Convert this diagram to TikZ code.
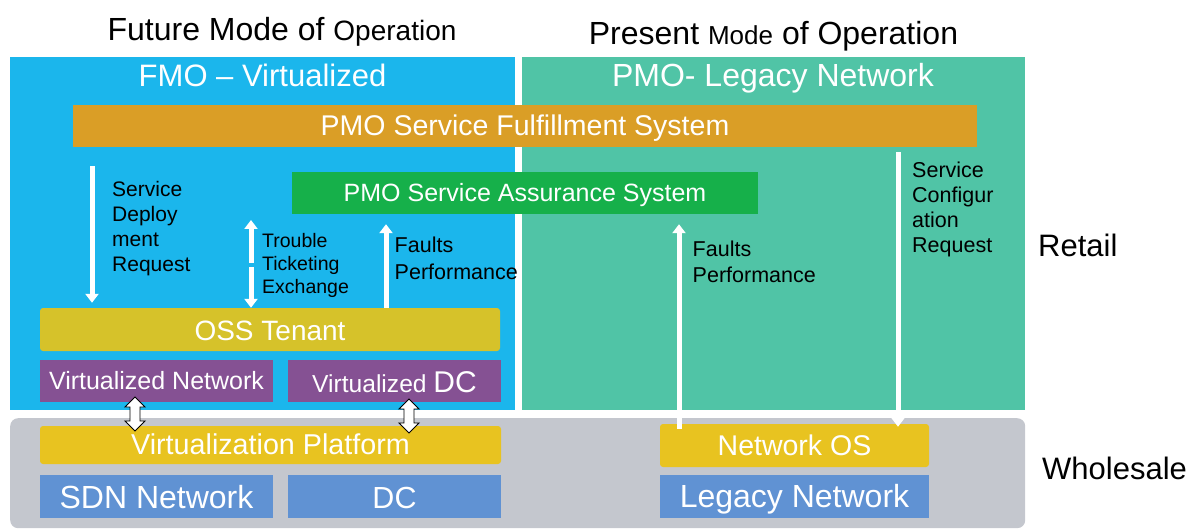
\documentclass[tikz,border=0pt]{standalone}
\usepackage{fontspec}
\setmainfont{Liberation Sans}
\usetikzlibrary{arrows.meta,calc}
\definecolor{fmoblue}{RGB}{27,182,236}
\definecolor{pmogreen}{RGB}{80,196,166}
\definecolor{wsgray}{RGB}{196,199,206}
\definecolor{sforange}{RGB}{218,158,38}
\definecolor{sagreen}{RGB}{22,176,74}
\definecolor{ossyellow}{RGB}{214,194,42}
\definecolor{vpyellow}{RGB}{232,195,32}
\definecolor{vpurple}{RGB}{133,81,147}
\definecolor{nblue}{RGB}{96,146,211}
\newcommand{\fsz}[1]{\fontsize{#1}{#1}\selectfont}
\newcommand{\dblarrow}[1]{\draw[darr] (#1) ++(0,-17) -- ++(10,10) -- ++(-5,0) -- ++(0,14) -- ++(5,0) -- ++(-10,10) -- ++(-10,-10) -- ++(5,0) -- ++(0,-14) -- ++(-5,0) -- cycle;}
\begin{document}
\begin{tikzpicture}[x=1pt,y=-1pt,
  region/.style={draw=none, inner sep=0pt, anchor=north west},
  box/.style={inner sep=0pt, text=white, text depth=0pt, text height=#1},
  lbl/.style={inner sep=0pt, anchor=base west, align=left, text=black},
  warr/.style={draw=white, line width=5pt, -{Triangle[width=13pt,length=9pt]}},
  darr/.style={draw=black, fill=white, line width=0.9pt, line join=miter}]
\useasboundingbox (0,0) rectangle (1193,529);
% regions
\node[region, fill=fmoblue, minimum width=505pt, minimum height=353pt] (fmo) at (10,57) {};
\node[region, fill=pmogreen, minimum width=503pt, minimum height=353pt] (pmo) at (522,57) {};
\node[region, fill=wsgray, minimum width=1015pt, minimum height=110pt, rounded corners=8pt] (ws) at (10,418) {};
% titles
\node[anchor=base, inner sep=0pt] (fut) at (282,41) {\fsz{32}Future Mode of {\fsz{28}Operation}};
\node[anchor=base, inner sep=0pt] (pres) at (773.5,45) {\fsz{32}Present {\fsz{26}Mode} of Operation};
\node[anchor=base, inner sep=0pt, text=white] (fmot) at (262.5,87) {\fsz{31}FMO – Virtualized};
\node[anchor=base, inner sep=0pt, text=white] (pmot) at (773,87) {\fsz{32}PMO- Legacy Network};
\node[anchor=base west, inner sep=0pt] (retail) at (1038,257) {\fsz{31}Retail};
\node[anchor=base west, inner sep=0pt] (whole) at (1042,479) {\fsz{31}Wholesale};
% boxes
\node[box=20pt, fill=sforange, minimum width=904pt, minimum height=42pt] (sf) at (525,126) {\fsz{28.5}PMO Service Fulfillment System};
\node[box=18pt, fill=sagreen, minimum width=466pt, minimum height=42pt] (sa) at (525,193) {\fsz{25}PMO Service Assurance System};
\node[box=21pt, fill=ossyellow, minimum width=460pt, minimum height=43pt, rounded corners=3pt] (oss) at (270,329.5) {\fsz{28}OSS Tenant};
\node[box=16pt, fill=vpurple, minimum width=233pt, minimum height=42pt] (vn) at (156.5,381) {\fsz{25}Virtualized Network};
\node[box=22pt, fill=vpurple, minimum width=213pt, minimum height=42pt] (vdc) at (394.5,381) {\fsz{24.6}Virtualized {\fsz{30}DC}};
\node[box=18pt, fill=vpyellow, minimum width=461pt, minimum height=38pt, rounded corners=3pt] (vp) at (270.5,445) {\fsz{28.7}Virtualization Platform};
\node[box=23pt, fill=nblue, minimum width=233pt, minimum height=43pt] (sdn) at (156.5,496.5) {\fsz{32}SDN Network};
\node[box=23pt, fill=nblue, minimum width=213pt, minimum height=43pt] (dc) at (394.5,496.5) {\fsz{30.5}DC};
\node[box=19pt, fill=vpyellow, minimum width=269pt, minimum height=43pt, rounded corners=3pt] (nos) at (794.5,445.5) {\fsz{28.5}Network OS};
\node[box=21pt, fill=nblue, minimum width=269pt, minimum height=43pt] (leg) at (794.5,496.5) {\fsz{32}Legacy Network};
% labels (base = last line)
\node[lbl, font={\fontsize{21}{25}\selectfont}] (sdr) at (112,272) {Service\\Deploy\\ment\\Request};
\node[lbl, font={\fontsize{19.5}{23}\selectfont}] (tte) at (262,293) {Trouble\\Ticketing\\Exchange};
\node[lbl, font={\fontsize{21.5}{26}\selectfont}] (fp1) at (394.5,279) {Faults\\Performance};
\node[lbl, font={\fontsize{21.5}{25}\selectfont}] (fp2) at (692.5,282) {Faults\\Performance};
\node[lbl, font={\fontsize{21.5}{25}\selectfont}] (scr) at (912,253) {Service\\Configur\\ation\\Request};
% arrow columns
\coordinate (xsd) at (92,0);
\coordinate (xf1) at (386,0);
\coordinate (xf2) at (679,0);
\coordinate (xsc) at (898,0);
\coordinate (xd1) at (135,0);
\coordinate (xd2) at (409,0);
\coordinate (tta) at (251,263);
\coordinate (ttb) at (251,220);
\coordinate (ttc) at (251,267);
% white arrows
\draw[warr, shorten <=19pt, shorten >=5pt] (sf.south -| xsd) -- (oss.north -| xsd);
\draw[warr] (tta) -- (ttb);
\draw[warr] (ttc) -- (oss.north -| ttc);
\draw[warr, shorten >=10pt] (oss.north -| xf1) -- (sa.south -| xf1);
\draw[warr, shorten <=-5pt, shorten >=10pt] (nos.north -| xf2) -- (sa.south -| xf2);
\draw[warr, shorten <=5pt, shorten >=-3pt] (sf.south -| xsc) -- (nos.north -| xsc);
% double block arrows between layers
\coordinate (da1) at ($(vn.south -| xd1)!0.5!(vp.north -| xd1)$);
\coordinate (da2) at ($(vdc.south -| xd2)!0.5!(vp.north -| xd2)+(0,2)$);
\dblarrow{da1}
\dblarrow{da2}
\end{tikzpicture}
\end{document}
